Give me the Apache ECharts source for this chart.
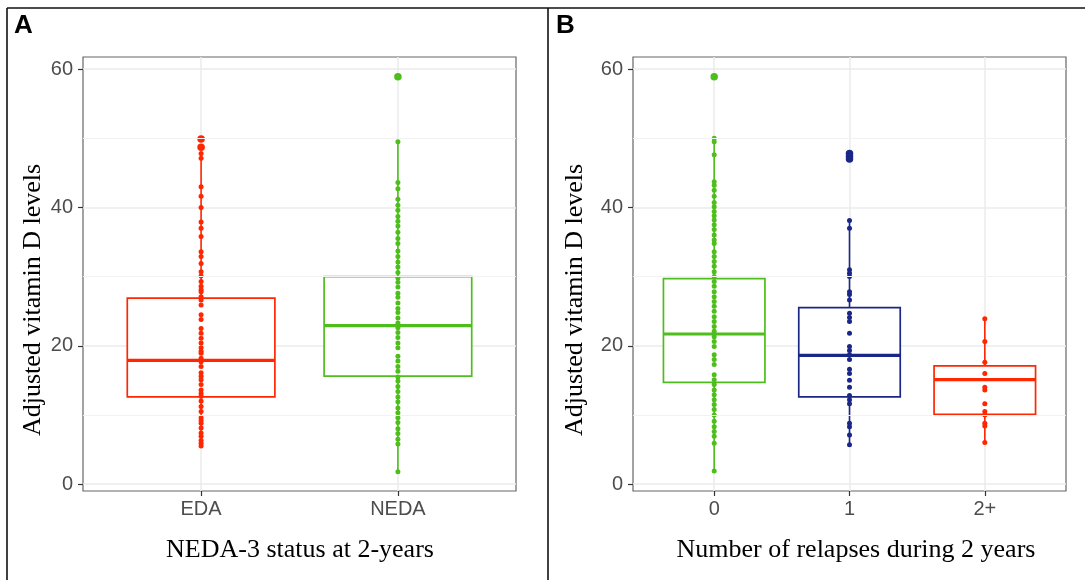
<!DOCTYPE html>
<html>
<head>
<meta charset="utf-8">
<script src="https://cdn.jsdelivr.net/npm/echarts@6/dist/echarts.min.js"></script>
<style>
  html, body { margin: 0; padding: 0; background: #fff; }
  #chart { width: 1085px; height: 580px; }
</style>
</head>
<body>
<div id="chart"></div>
<script>
// categories
const catsA = ['EDA', 'NEDA']
const catsB = ['0', '1', '2+']
const yTicks = [0, 20, 40, 60]
const yMinor = [10, 30, 50]

// box stats: [lower whisker, Q1, median, Q3, upper whisker]
const boxEDA = [5.5, 12.6, 17.9, 26.9, 47.8]
const boxNEDA = [1.8, 15.6, 22.9, 30.0, 49.5]
const box0 = [1.9, 14.7, 21.7, 29.7, 49.7]
const box1 = [5.7, 12.6, 18.6, 25.5, 38.1]
const box2 = [6.0, 10.1, 15.1, 17.1, 23.9]

// outliers
const outEDA = [48.7, 49.9]
const outNEDA = [58.9]
const out0 = [58.9]
const out1 = [47.0, 47.4, 47.8]
const out2 = []

// individual observations
const ptsEDA = [49.9, 48.7, 47.8, 47.1, 43.0, 41.6, 40.0, 37.9, 37.0, 35.8, 33.6, 32.9, 31.9,
  30.7, 30.1, 29.3, 28.6, 28.1, 27.8, 27.1, 26.6, 25.9, 24.5, 23.8, 22.5, 21.8, 21.1, 20.4,
  19.7, 19.2, 18.9, 18.2, 17.7, 17.0, 16.1, 15.6, 15.1, 14.4, 13.6, 13.1, 12.7, 12.0, 11.2,
  10.5, 9.6, 9.2, 8.8, 8.1, 7.4, 6.9, 6.3, 5.9, 5.5]
const ptsNEDA = [58.9, 49.5, 43.6, 42.7, 41.2, 40.3, 39.6, 38.7, 38.0, 37.3, 36.4, 35.5, 34.8,
  33.7, 32.9, 32.1, 31.4, 30.6, 29.8, 29.2, 28.5, 27.6, 27.0, 26.2, 25.4, 24.8, 24.0, 23.3,
  22.6, 21.9, 21.2, 20.4, 19.7, 18.5, 17.8, 17.0, 16.3, 15.5, 14.9, 14.1, 13.4, 12.6, 11.9,
  11.0, 10.3, 9.6, 8.9, 8.0, 7.3, 6.5, 5.8, 1.8]
const pts0 = [59.0, 50.0, 49.5, 47.6, 43.7, 43.2, 42.5, 41.6, 40.7, 40.1, 39.4, 38.8, 38.2,
  37.5, 36.8, 36.0, 35.3, 34.8, 33.6, 32.9, 32.2, 31.5, 30.7, 30.0, 29.3, 28.6, 27.8, 27.1,
  26.4, 25.7, 25.0, 24.2, 23.5, 22.8, 22.1, 21.3, 20.6, 19.9, 18.7, 18.0, 17.3, 15.8, 15.1,
  14.4, 13.6, 12.9, 12.2, 11.5, 10.8, 10.0, 9.1, 8.3, 7.6, 6.9, 5.9, 1.9]
const pts1 = [47.8, 47.4, 47.0, 38.1, 37.0, 31.0, 30.5, 30.0, 27.8, 27.4, 26.6, 24.7, 24.1,
  23.5, 21.8, 19.9, 19.3, 18.7, 18.0, 16.6, 16.0, 15.0, 14.0, 12.8, 12.2, 11.6, 8.8, 8.3,
  7.1, 5.7]
const pts2 = [23.9, 20.6, 17.6, 16.0, 14.0, 13.6, 11.6, 10.5, 10.0, 8.8, 8.4, 6.0]

const RED = '#FF2600'
const GREEN = '#4DBE1B'
const NAVY = '#1B2787'
const colorsA = [RED, GREEN]
const colorsB = [GREEN, NAVY, RED]

const FONT_SANS = '"Liberation Sans", Arial, sans-serif'
const FONT_SERIF = '"Liberation Serif", "Times New Roman", serif'

function renderBox(colors) {
  return function (params, api) {
    const x = api.value(0)
    const half = api.size([0.75, 0])[0] / 2
    const pLw = api.coord([x, api.value(1)])
    const pQ1 = api.coord([x, api.value(2)])
    const pMed = api.coord([x, api.value(3)])
    const pQ3 = api.coord([x, api.value(4)])
    const pUw = api.coord([x, api.value(5)])
    const color = colors[params.dataIndex]
    const cx = pMed[0]
    return {
      type: 'group',
      children: [
        { type: 'line', shape: { x1: cx, y1: pUw[1], x2: cx, y2: pQ3[1] }, style: { stroke: color, lineWidth: 1.6 } },
        { type: 'line', shape: { x1: cx, y1: pQ1[1], x2: cx, y2: pLw[1] }, style: { stroke: color, lineWidth: 1.6 } },
        { type: 'rect', shape: { x: cx - half, y: pQ3[1], width: half * 2, height: pQ1[1] - pQ3[1] },
          style: { fill: '#fff', stroke: color, lineWidth: 1.7 } },
        { type: 'line', shape: { x1: cx - half, y1: pMed[1], x2: cx + half, y2: pMed[1] }, style: { stroke: color, lineWidth: 3.2 } }
      ]
    }
  }
}

function xAxisOf(gridIndex, cats) {
  const idx = cats.map((c, i) => i)
  return {
    type: 'value', gridIndex: gridIndex, min: -0.6, max: cats.length - 1 + 0.6,
    axisLine: { show: false, onZero: false },
    axisTick: { show: true, customValues: idx, length: 5, lineStyle: { color: '#333', width: 1.2 } },
    axisLabel: { customValues: idx, formatter: v => cats[Math.round(v)], color: '#4D4D4D',
      fontFamily: FONT_SANS, fontSize: 20, margin: 8 },
    splitLine: { show: true, lineStyle: { color: '#EBEBEB', width: 1.5 } }
  }
}

function yAxisOf(gridIndex) {
  return {
    type: 'value', gridIndex: gridIndex, min: -1, max: 61.75,
    axisLine: { show: false, onZero: false },
    axisTick: { show: true, customValues: yTicks, length: 5, lineStyle: { color: '#333', width: 1.2 } },
    axisLabel: { customValues: yTicks, color: '#4D4D4D', fontFamily: FONT_SANS, fontSize: 20, margin: 10 },
    splitLine: { show: true, lineStyle: { color: '#EBEBEB', width: 1.5 } }
  }
}

function minorGrid(gridIndex) {
  return {
    type: 'line', xAxisIndex: gridIndex, yAxisIndex: gridIndex, data: [], z: 1, silent: true,
    markLine: {
      silent: true, symbol: 'none', label: { show: false },
      lineStyle: { color: '#F2F2F2', width: 1, type: 'solid' },
      data: yMinor.map(v => ({ yAxis: v }))
    }
  }
}

function points(gridIndex, groups, colors, size) {
  return groups.map((vals, i) => ({
    type: 'scatter', xAxisIndex: gridIndex, yAxisIndex: gridIndex, z: 4,
    symbolSize: size, itemStyle: { color: colors[i], opacity: 1 },
    data: vals.map(v => [i, v])
  }))
}

const chart = echarts.init(document.getElementById('chart'))

const gridStyle = { show: true, borderColor: '#666', borderWidth: 1.2, backgroundColor: '#fff', containLabel: false }

const option = {
  animation: false,
  grid: [
    Object.assign({ left: 83, right: 569, top: 57, bottom: 89 }, gridStyle),
    Object.assign({ left: 633, right: 19, top: 57, bottom: 89 }, gridStyle)
  ],
  xAxis: [xAxisOf(0, catsA), xAxisOf(1, catsB)],
  yAxis: [yAxisOf(0), yAxisOf(1)],
  series: [
    minorGrid(0),
    minorGrid(1),
    {
      type: 'custom', xAxisIndex: 0, yAxisIndex: 0, z: 2, silent: true,
      renderItem: renderBox(colorsA),
      data: [[0].concat(boxEDA), [1].concat(boxNEDA)]
    },
    {
      type: 'custom', xAxisIndex: 1, yAxisIndex: 1, z: 2, silent: true,
      renderItem: renderBox(colorsB),
      data: [[0].concat(box0), [1].concat(box1), [2].concat(box2)]
    }
  ]
    .concat(points(0, [outEDA, outNEDA], colorsA, 7.5))
    .concat(points(1, [out0, out1, out2], colorsB, 7.5))
    .concat(points(0, [ptsEDA, ptsNEDA], colorsA, 5))
    .concat(points(1, [pts0, pts1, pts2], colorsB, 5)),
  graphic: [
    { type: 'line', shape: { x1: 7, y1: 8, x2: 1085, y2: 8 }, style: { stroke: '#111', lineWidth: 1.6 } },
    { type: 'line', shape: { x1: 7, y1: 8, x2: 7, y2: 580 }, style: { stroke: '#111', lineWidth: 1.6 } },
    { type: 'line', shape: { x1: 548, y1: 8, x2: 548, y2: 580 }, style: { stroke: '#111', lineWidth: 1.6 } },
    { type: 'text', x: 14, y: 13, style: { text: 'A', font: 'bold 26px ' + FONT_SANS, fill: '#000' } },
    { type: 'text', x: 556, y: 13, style: { text: 'B', font: 'bold 26px ' + FONT_SANS, fill: '#000' } },
    { type: 'text', x: 33, y: 300, rotation: Math.PI / 2,
      style: { text: 'Adjusted vitamin D levels', font: '26px ' + FONT_SERIF, fill: '#000',
        textAlign: 'center', textVerticalAlign: 'middle' } },
    { type: 'text', x: 575, y: 300, rotation: Math.PI / 2,
      style: { text: 'Adjusted vitamin D levels', font: '26px ' + FONT_SERIF, fill: '#000',
        textAlign: 'center', textVerticalAlign: 'middle' } },
    { type: 'text', x: 300, y: 550,
      style: { text: 'NEDA-3 status at 2-years', font: '26px ' + FONT_SERIF, fill: '#000',
        textAlign: 'center', textVerticalAlign: 'middle' } },
    { type: 'text', x: 856, y: 550,
      style: { text: 'Number of relapses during 2 years', font: '26px ' + FONT_SERIF, fill: '#000',
        textAlign: 'center', textVerticalAlign: 'middle' } }
  ]
}

chart.setOption(option)
</script>
</body>
</html>
